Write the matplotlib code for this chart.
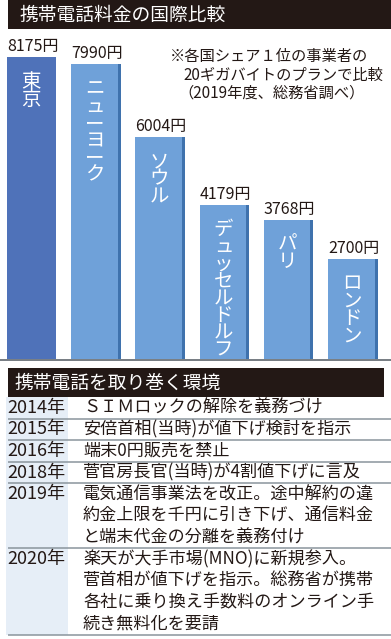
import matplotlib
matplotlib.use("Agg")
import matplotlib.pyplot as plt
from matplotlib.patches import Rectangle

plt.rcParams['font.family'] = ['Noto Sans CJK JP', 'DejaVu Sans']

# ---- data ----
cities = ["東京", "ニューヨーク", "ソウル", "デュッセルドルフ", "パリ", "ロンドン"]
prices = [8175, 7990, 6004, 4179, 3768, 2700]
price_labels = ["8175円", "7990円", "6004円", "4179円", "3768円", "2700円"]
title1 = "携帯電話料金の国際比較"
note_lines = ["※各国シェア１位の事業者の", "20ギガバイトのプランで比較", "（2019年度、総務省調べ）"]
title2 = "携帯電話を取り巻く環境"
years = ["2014年", "2015年", "2016年", "2018年", "2019年", "2020年"]
events = [
    ["ＳＩＭロックの解除を義務づけ"],
    ["安倍首相(当時)が値下げ検討を指示"],
    ["端末0円販売を禁止"],
    ["菅官房長官(当時)が4割値下げに言及"],
    ["電気通信事業法を改正。途中解約の違", "約金上限を千円に引き下げ、通信料金", "と端末代金の分離を義務付け"],
    ["楽天が大手市場(MNO)に新規参入。", "菅首相が値下げを指示。総務省が携帯", "各社に乗り換え手数料のオンライン手", "続き無料化を要請"],
]

DARK = "#231815"
TOKYO = "#4f72b9"
BAR = "#6fa1d9"
EDGE = "#3f72ad"
GRID = "#8a949c"
YEARBG = "#e6eef7"

W, H = 391, 639
fig = plt.figure(figsize=(W / 100, H / 100), dpi=100)
fig.patch.set_facecolor("white")

# overlay axes in pixel coordinates
ov = fig.add_axes([0, 0, 1, 1])
ov.set_xlim(0, W)
ov.set_ylim(H, 0)
ov.axis("off")

# title bar 1
ov.add_patch(Rectangle((8, 0), W - 8, 29, color=DARK, lw=0))
ov.text(19, 15, title1, color="white", fontsize=13.5, va="center", ha="left")

# note
note_x = [170, 183, 178]
note_y = [57, 75, 93]
for t, x, y in zip(note_lines, note_x, note_y):
    ov.text(x, y, t, fontsize=11, va="center", ha="left", color=DARK)

# baseline
ov.plot([0, W], [359.5, 359.5], color="#6b7278", lw=1.3, solid_capstyle="butt")

# title bar 2
ov.add_patch(Rectangle((8, 368), 376, 29, color=DARK, lw=0))
ov.text(14, 383, title2, color="white", fontsize=13.5, va="center", ha="left")

# table
LH = 21.6
y0 = 397
for yr, ev in zip(years, events):
    n = len(ev)
    y1 = y0 + n * LH
    ov.add_patch(Rectangle((6, y0), 62, y1 - y0, color=YEARBG, lw=0))
    ov.text(7, y0 + LH / 2, yr, fontsize=13, va="center", ha="left", color=DARK)
    for k, line in enumerate(ev):
        ov.text(83, y0 + (k + 0.5) * LH, line, fontsize=12.3, va="center", ha="left", color=DARK)
    ov.plot([8, W], [y1, y1], color=GRID, lw=1.1, solid_capstyle="butt")
    y0 = y1

# bar chart axes
px_per_unit = 64.3
x0 = -31.5 / px_per_unit
ax = fig.add_axes([0, (H - 359) / H, 1, 329 / H])
ax.patch.set_alpha(0)
ax.set_xlim(x0, x0 + W / px_per_unit)
ax.set_ylim(0, 329 / 0.0369)
ax.axis("off")

bw = 0.77
xs = list(range(len(cities)))
colors = [TOKYO] + [BAR] * (len(cities) - 1)
ax.bar(xs, prices, width=bw, color=colors, lw=0)
sw = 3 / px_per_unit
ax.bar([x + bw / 2 - sw / 2 for x in xs[1:]], prices[1:], width=sw, color=EDGE, lw=0)

for x, v, lab in zip(xs, prices, price_labels):
    ax.annotate(lab, xy=(x, v), xytext=(1, 2), textcoords="offset pixels",
                ha="center", va="bottom", fontsize=11.5, color=DARK)

# vertical (top-to-bottom) city names inside the bars
for x, v, name in zip(xs, prices, cities):
    ax.annotate("\n".join(name), xy=(x, v), xytext=(-1, -14), textcoords="offset pixels",
                ha="center", va="top", ma="center", fontsize=14, color="white",
                linespacing=0.77)

fig.savefig("out.png", dpi=100, facecolor="white")
